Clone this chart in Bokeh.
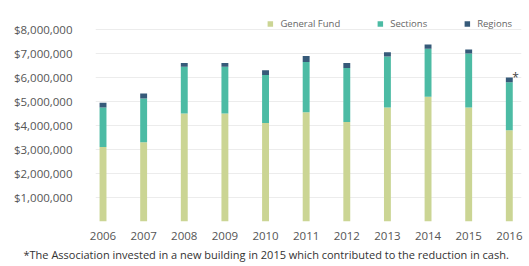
from bokeh.plotting import figure
from bokeh.models import ColumnDataSource, Legend, LegendItem, Title, FixedTicker, NumeralTickFormatter
from bokeh.embed import file_html
from bokeh.resources import INLINE
from bokeh.core.properties import value

years = [2006, 2007, 2008, 2009, 2010, 2011, 2012, 2013, 2014, 2015, 2016]
general_fund = [3100000, 3300000, 4500000, 4500000, 4100000, 4550000, 4150000, 4750000, 5200000, 4750000, 3800000]
sections = [1650000, 1830000, 1950000, 1950000, 2000000, 2100000, 2250000, 2130000, 2000000, 2250000, 2000000]
regions = [200000, 200000, 150000, 150000, 200000, 250000, 200000, 170000, 170000, 170000, 200000]
series_names = ["General Fund", "Sections", "Regions"]
colors = ["#cbd594", "#4cbba4", "#365a79"]
y_ticks = [1000000, 2000000, 3000000, 4000000, 5000000, 6000000, 7000000, 8000000]
footnote = "*The Association invested in a new building in 2015 which contributed to the reduction in cash."

totals = [g + s + r for g, s, r in zip(general_fund, sections, regions)]
src = ColumnDataSource(dict(year=years, gf=general_fund, sec=sections, reg=regions, total=totals))

p = figure(width=529, height=266, output_backend="svg", toolbar_location=None,
           x_range=(2005.815, 2016.3), y_range=(0, 8875000),
           frame_width=426, frame_height=213,
           min_border_left=95, min_border_right=8, min_border_top=8, min_border_bottom=45)
p.outline_line_color = None
p.background_fill_color = "white"

r = p.vbar_stack(["gf", "sec", "reg"], x="year", width=0.17, source=src,
                 color=colors, line_color=None)

# asterisk on last bar
last = ColumnDataSource(dict(x=[years[-1]], y=[totals[-1]], t=["*"]))
p.text(x="x", y="y", text="t", source=last, x_offset=3, y_offset=0,
       text_font=value("Open Sans"), text_font_size="12px", text_color="#444444",
       text_baseline="middle")

p.xaxis.ticker = FixedTicker(ticks=years)
p.xaxis.axis_line_color = None
p.xaxis.major_tick_line_color = None
p.xaxis.minor_tick_line_color = None
p.xaxis.major_label_standoff = 4
p.xaxis.major_label_text_font = "Open Sans"
p.xaxis.major_label_text_font_size = "11.5px"
p.xaxis.major_label_text_color = "#555555"

p.yaxis.ticker = FixedTicker(ticks=y_ticks)
p.yaxis.formatter = NumeralTickFormatter(format="$0,0")
p.yaxis.axis_line_color = None
p.yaxis.major_tick_line_color = None
p.yaxis.minor_tick_line_color = None
p.yaxis.major_label_standoff = 17
p.yaxis.major_label_text_font = "Open Sans"
p.yaxis.major_label_text_font_size = "11.5px"
p.yaxis.major_label_text_color = "#555555"

p.xgrid.grid_line_color = None
p.ygrid.grid_line_color = "#ececec"
p.ygrid.grid_line_width = 1

legend = Legend(items=[LegendItem(label=n, renderers=[rr]) for n, rr in zip(series_names, r)],
                location="top_right", orientation="horizontal",
                label_text_font="Open Sans", label_text_font_size="9.5px",
                label_text_color="#666666", glyph_width=7, glyph_height=7,
                spacing=36, padding=0, margin=9, label_standoff=7,
                background_fill_alpha=0, border_line_color=None, label_height=10)
p.add_layout(legend)

p.add_layout(Title(text=footnote, align="left", offset=-72, text_font="Open Sans",
                   text_font_size="11px", text_font_style="normal",
                   text_color="#333333", standoff=5), "below")

open("out.html", "w").write(file_html(p, INLINE))
